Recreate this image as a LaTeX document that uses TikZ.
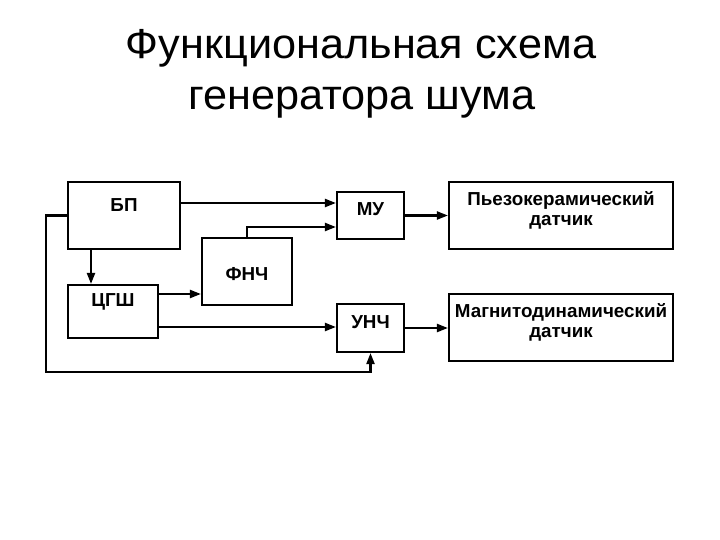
\documentclass[tikz,border=0pt]{standalone}
\usepackage{fontspec}
\setmainfont{Liberation Sans}
\usetikzlibrary{arrows.meta}

\begin{document}
\begin{tikzpicture}[> = {Triangle[length=11pt, width=8pt]}, % arrow head style
                x = 1pt, y = -1pt, % pixel units, y goes down
                line width = 2.1pt % line style
            ]

            \tikzstyle{block}=[draw = black, rectangle, inner sep = 0pt,
            line width = 2.1pt]
            \tikzstyle{txt}=[font = \fontsize{18.8}{20}\selectfont\bfseries,
            align = center, inner sep = 0pt]
            \tikzstyle{head}=[anchor = base, xscale = 1.03,
            font = \fontsize{42}{42}\selectfont]

            \useasboundingbox (0,0) rectangle (720,540);

            % title
            \node[head] (t1) at (361,59) {Функциональная схема};
            \node[head] (t2) at (362,110) {генератора шума};

            % blocks
            \node[block, minimum width = 112pt, minimum height = 67pt,
            label = {[txt, yshift = 10pt]center:БП}] (bp) at (124,215.5) {};
            \node[block, minimum width = 90pt, minimum height = 53pt,
            label = {[txt, yshift = 10pt]center:ЦГШ}] (cgsh) at (113,311.5) {};
            \node[block, minimum width = 90pt, minimum height = 67pt,
            label = {[txt, yshift = -3pt]center:ФНЧ}] (fnch) at (247,271.5) {};
            \node[block, minimum width = 67pt, minimum height = 47pt,
            label = {[txt, yshift = 6pt]center:МУ}] (mu) at (370.5,215.5) {};
            \node[block, minimum width = 67pt, minimum height = 48pt,
            label = {[txt, yshift = 6pt]center:УНЧ}] (unch) at (370.5,328) {};
            \node[block, minimum width = 224pt, minimum height = 67pt,
            label = {[txt, yshift = 5pt]center:Пьезокерамический\\датчик}]
            (piezo) at (561,215.5) {};
            \node[block, minimum width = 224pt, minimum height = 67pt,
            label = {[txt, yshift = 5pt]center:Магнитодинамический\\датчик}]
            (magn) at (561,327.5) {};

            \coordinate (loop) at (46,372);

            % connections
            \draw[->] ([yshift = 12.5pt]bp.east) -- ([yshift = 12.5pt]mu.west);
            \draw[->] (fnch.north) |- ([yshift = -11.5pt]mu.west);
            \draw[->] ([xshift = -33pt]bp.south) -- ([xshift = -33pt]bp.south |- cgsh.north);
            \draw[->] ([yshift = 17.5pt]cgsh.east) -- ([yshift = 17.5pt]cgsh.east -| fnch.west);
            \draw[->] ([yshift = -15.5pt]cgsh.east) -- ([yshift = -15.5pt]cgsh.east -| unch.west);
            \draw[->] (bp.west) -| (loop) -| (unch.south);
            \draw[->] (mu.east) -- (piezo.west);
            \draw[->] (unch.east) -- (unch.east -| magn.west);
        \end{tikzpicture}
\end{document}
